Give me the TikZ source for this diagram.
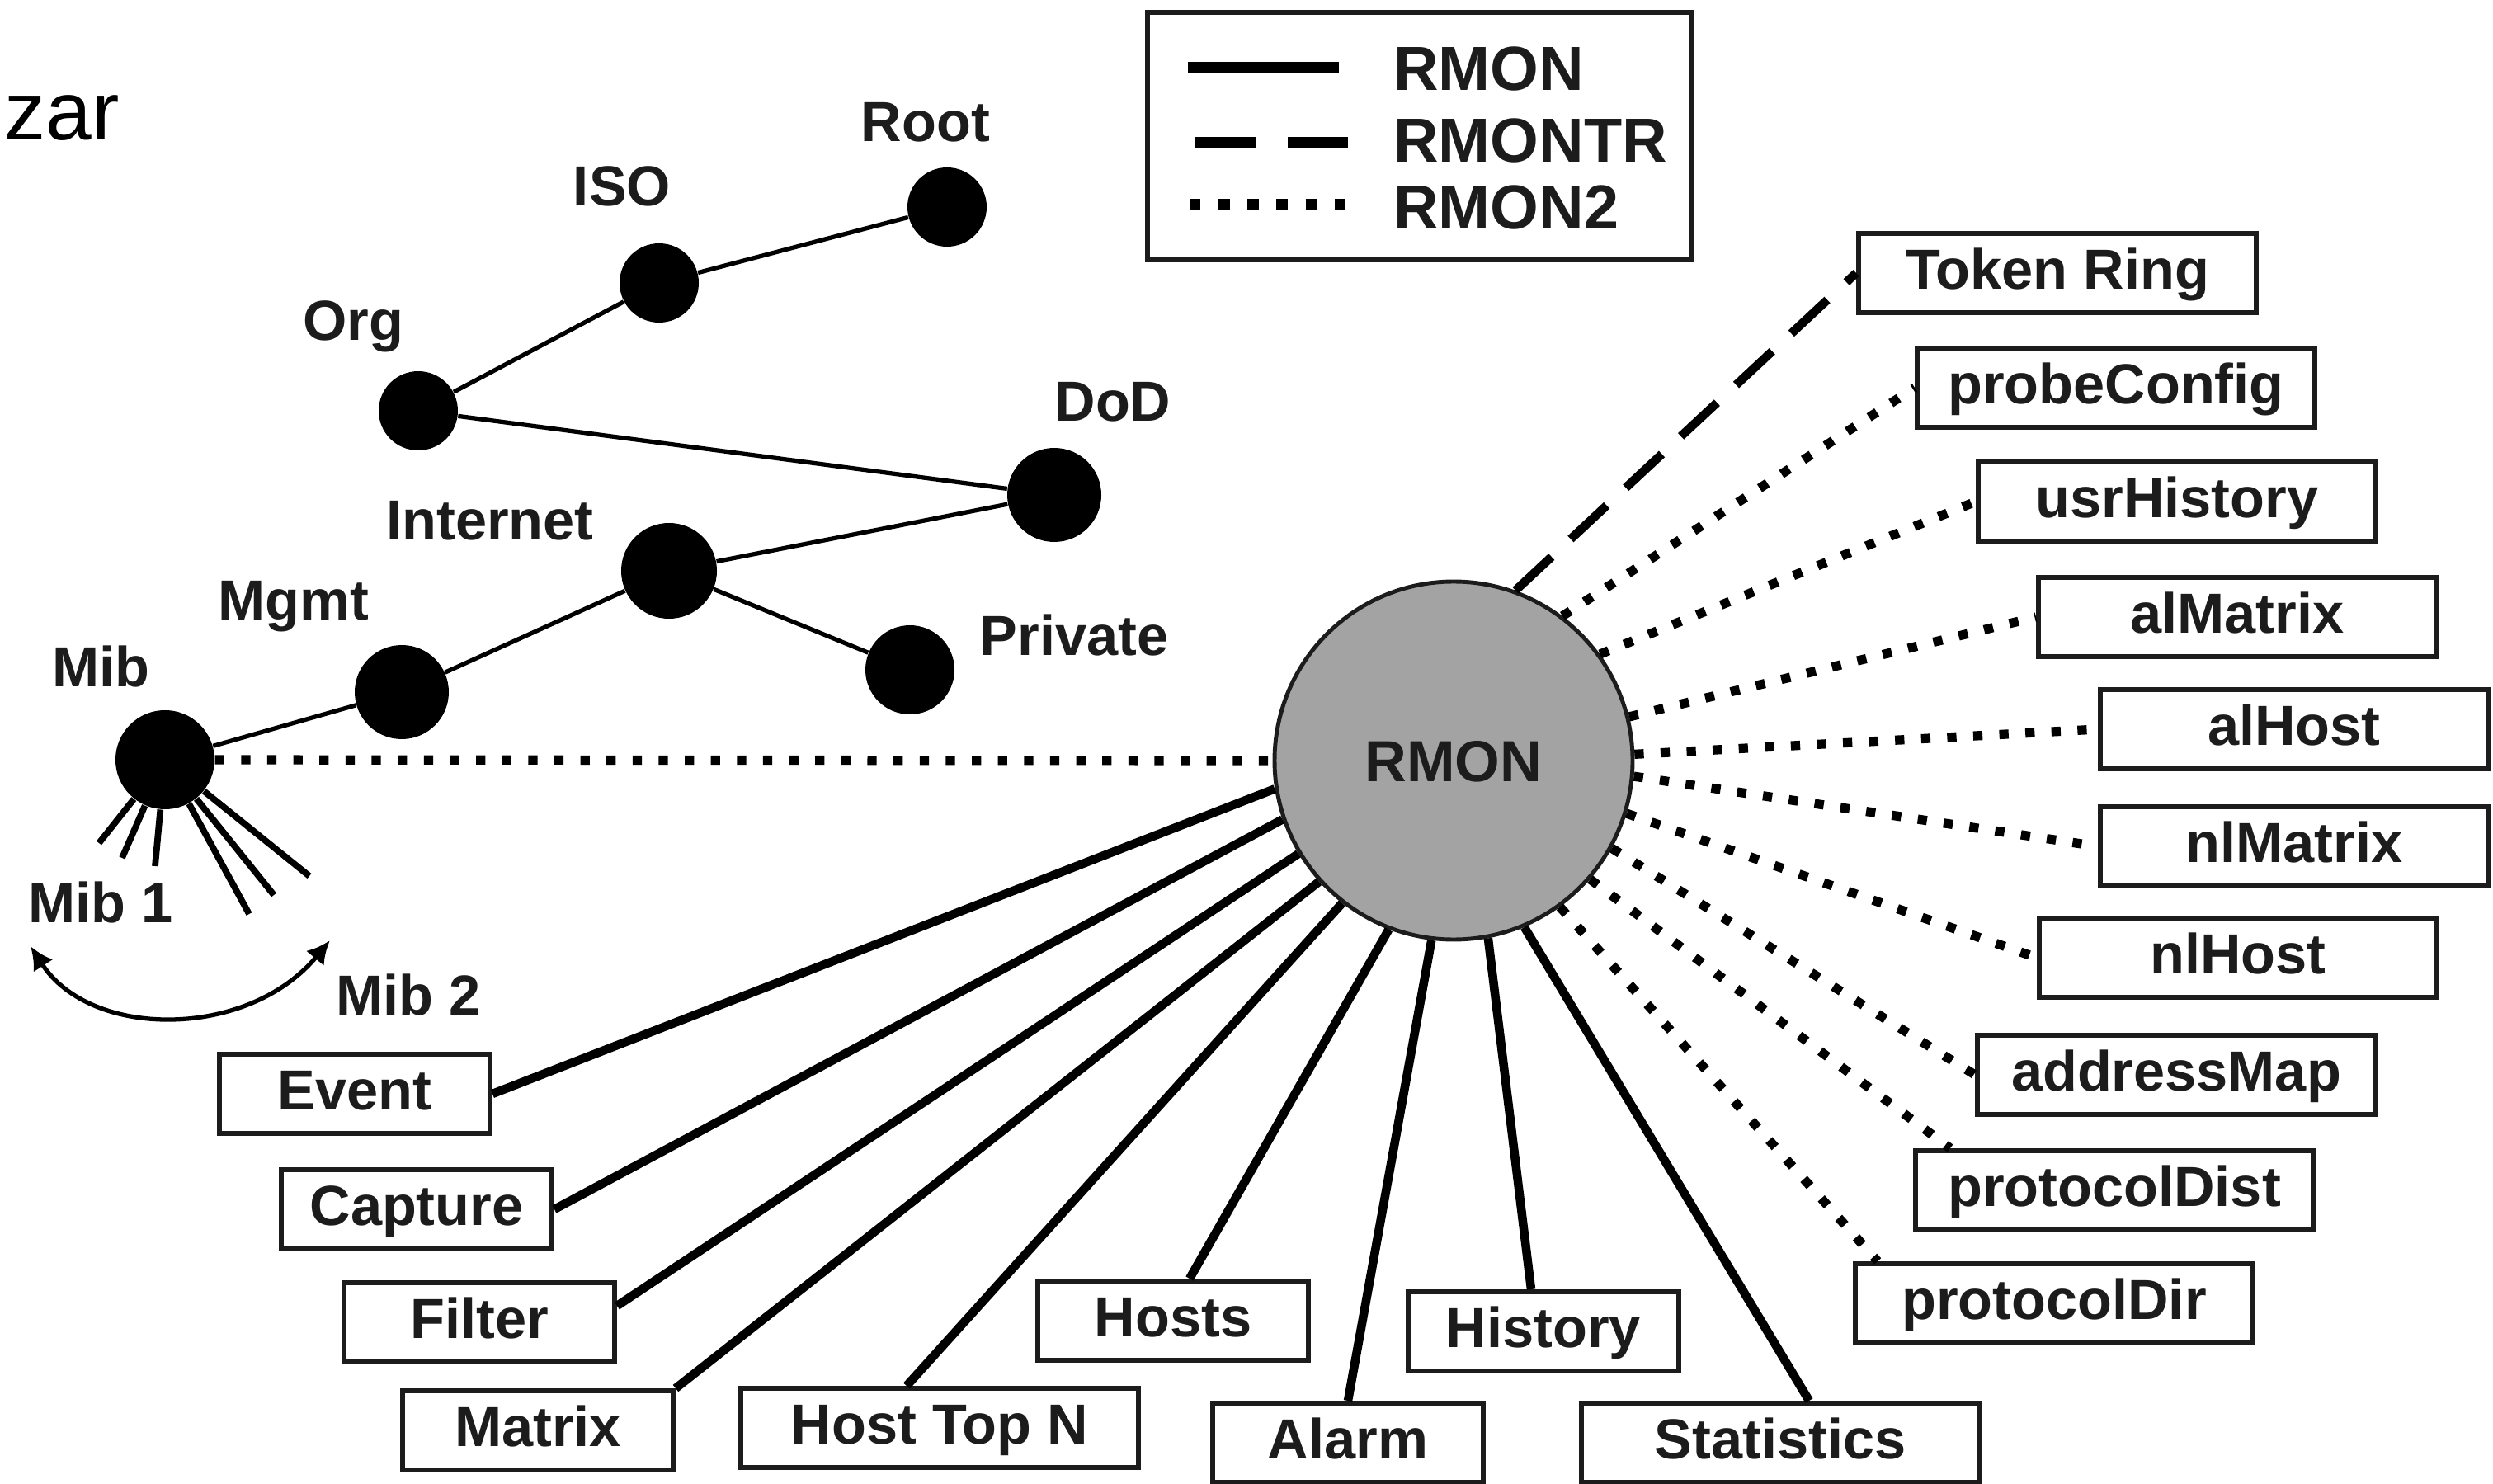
\documentclass[tikz,border=0pt]{standalone}
\usepackage{fontspec}
\setmainfont{Liberation Sans}
\usetikzlibrary{arrows.meta}
\definecolor{ink}{HTML}{1C1C1C}
\definecolor{rmongray}{HTML}{A3A3A3}
\begin{document}
\begin{tikzpicture}[x=1cm, y=-1cm, every node/.style={text=ink, font=\fontsize{19.5}{23}\selectfont\bfseries}]
	\tikzstyle{leaf} = [draw=ink, line width=1.7pt, minimum height=0.96cm, inner sep=0pt, text height=14pt, text depth=3pt]
	\tikzstyle{shortleaf} = [leaf, minimum width=3.28cm]
	\tikzstyle{longleaf} = [leaf, minimum width=4.82cm]
	\tikzstyle{oid} = [circle, fill=black, inner sep=0pt]
	\tikzstyle{treelink} = [line width=1.5pt]
	\tikzstyle{spikelink} = [line width=2.2pt]
	\tikzstyle{solidlink} = [line width=3pt]
	\tikzstyle{trlink} = [line width=3pt, dash pattern=on 17pt off 9pt]
	\tikzstyle{dotlink} = [line width=3.2pt, dash pattern=on 3.2pt off 5.8pt]
	\useasboundingbox (0,0) rectangle (30.22,17.99);
	\node[anchor=base west, inner sep=0pt, text=black, font=\fontsize{28.5}{31}\selectfont](zar)at (0.05,1.70){zar};
	% legend
	\node[draw=ink, line width=1.7pt, minimum width=6.59cm, minimum height=3.0cm](legend)at (17.205,1.65){};
	\draw[line width=3.8pt] (14.40,0.82) -- (16.23,0.82);
	\draw[line width=3.8pt, dash pattern=on 21pt off 10.8pt] (14.49,1.73) -- (16.34,1.73);
	\draw[line width=3.8pt, dash pattern=on 3.8pt off 6.2pt] (14.42,2.48) -- (16.34,2.48);
	\node[anchor=base west, font=\fontsize{21.5}{25}\selectfont\bfseries](lrmon)at (16.77,1.10){RMON};
	\node[anchor=base west, font=\fontsize{21.5}{25}\selectfont\bfseries](lrmontr)at (16.77,1.97){RMONTR};
	\node[anchor=base west, font=\fontsize{21.5}{25}\selectfont\bfseries](lrmontwo)at (16.77,2.78){RMON2};
	% OID tree
	\node[oid, minimum size=0.96cm](root)at (11.48,2.51){};
	\node[oid, minimum size=0.96cm](iso)at (7.99,3.43){};
	\node[oid, minimum size=0.96cm](org)at (5.07,4.98){};
	\node[oid, minimum size=1.14cm](dod)at (12.78,6.00){};
	\node[oid, minimum size=1.16cm](internet)at (8.11,6.92){};
	\node[oid, minimum size=1.08cm](private)at (11.03,8.12){};
	\node[oid, minimum size=1.14cm](mgmt)at (4.87,8.39){};
	\node[oid, minimum size=1.20cm](mib)at (2.00,9.21){};
	\node[anchor=base](lroot)at (11.22,1.72){Root};
	\node[anchor=base](liso)at (7.54,2.50){ISO};
	\node[anchor=base](lorg)at (4.28,4.13){Org};
	\node[anchor=base](ldod)at (13.49,5.11){DoD};
	\node[anchor=base](linternet)at (5.94,6.55){Internet};
	\node[anchor=base](lmgmt)at (3.56,7.52){Mgmt};
	\node[anchor=base](lprivate)at (13.02,7.95){Private};
	\node[anchor=base](lmib)at (1.22,8.32){Mib};
	\node[anchor=base](lmibone)at (1.22,11.18){Mib 1};
	\node[anchor=base](lmibtwo)at (4.95,12.30){Mib 2};
	\path[treelink] (root) edge (iso)
	(iso) edge (org)
	(org) edge (dod)
	(dod) edge (internet)
	(internet) edge (private)
	(internet) edge (mgmt)
	(mgmt) edge (mib);
	\foreach \sx/\sy [count=\i] in {1.20/10.22, 1.48/10.40, 1.88/10.50, 3.02/11.08, 3.32/10.85, 3.75/10.62}{
		\coordinate (spike\i) at (\sx,\sy);
		\draw[spikelink] (mib) -- (spike\i);
	}
	\coordinate (mibleft) at (0.37,11.47);
	\coordinate (mibright) at (4.00,11.40);
	\draw[line width=1.5pt, {Latex[length=8pt,width=8pt]}-{Latex[length=8pt,width=8pt]}] (mibleft) .. controls (1.10,12.60) and (3.00,12.60) .. (mibright);
	% RMON and its groups
	\node[circle, draw=ink, line width=1.4pt, fill=rmongray, minimum size=4.34cm, inner sep=0pt, text height=14.5pt, text depth=0pt, font=\fontsize{20}{24}\selectfont\bfseries](rmon)at (17.62,9.22){RMON};
	\node[shortleaf](event)at (4.30,13.26){Event};
	\node[shortleaf](capture)at (5.05,14.66){Capture};
	\node[shortleaf](filter)at (5.81,16.03){Filter};
	\node[shortleaf](mtx)at (6.52,17.34){Matrix};
	\node[longleaf](hosttop)at (11.39,17.31){Host Top N};
	\node[shortleaf](hosts)at (14.22,16.01){Hosts};
	\node[shortleaf](alarm)at (16.34,17.49){Alarm};
	\node[shortleaf](history)at (18.71,16.14){History};
	\node[longleaf](stats)at (21.58,17.49){Statistics};
	\node[longleaf](token)at (24.94,3.31){Token Ring};
	\node[longleaf](probe)at (25.65,4.70){probeConfig};
	\node[longleaf](usr)at (26.39,6.08){usrHistory};
	\node[longleaf](almatrix)at (27.12,7.48){alMatrix};
	\node[longleaf, minimum width=4.70cm](alhost)at (27.81,8.84){alHost};
	\node[longleaf, minimum width=4.70cm](nlmatrix)at (27.81,10.26){nlMatrix};
	\node[longleaf](nlhost)at (27.13,11.61){nlHost};
	\node[longleaf](addrmap)at (26.38,13.03){addressMap};
	\node[longleaf](pdist)at (25.63,14.43){protocolDist};
	\node[longleaf](pdir)at (24.90,15.80){protocolDir};
	\path[solidlink] (rmon.189) edge (event.east)
	(rmon.199) edge (capture.east)
	(rmon.211) edge ([yshift=2mm]filter.east)
	(rmon.222) edge (mtx.north east)
	(rmon.232) edge ([xshift=-4mm]hosttop.north)
	(rmon.249) edge ([xshift=2mm]hosts.north)
	(rmon.263) edge (alarm.north)
	(rmon.281) edge ([xshift=-1.5mm]history.north)
	(rmon.293) edge ([xshift=3.5mm]stats.north);
	\path[trlink] (rmon.70) edge (token.west);
	\path[dotlink] (rmon.53) edge (probe.west)
	(rmon.36) edge (usr.west)
	(rmon.14) edge (almatrix.west)
	(rmon.2) edge (alhost.west)
	(rmon.355) edge (nlmatrix.west)
	(rmon.343) edge (nlhost.west)
	(rmon.331) edge (addrmap.west)
	(rmon.319) edge ([xshift=4.5mm]pdist.north west)
	(rmon.306) edge ([xshift=3mm]pdir.north west)
	(mib) edge (rmon.180);
\end{tikzpicture}
\end{document}
